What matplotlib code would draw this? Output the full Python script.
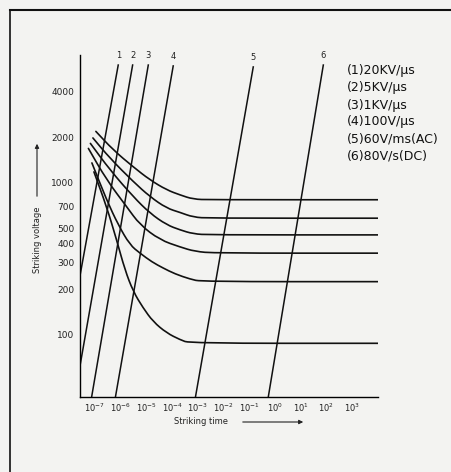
import numpy as np
import matplotlib.pyplot as plt
from matplotlib.lines import Line2D
from matplotlib.path import Path
from matplotlib.patches import PathPatch
from matplotlib.ticker import FixedLocator, FixedFormatter, NullLocator

# ramp lines (constant dV/dt), start / end points
ramp_names = ['1', '2', '3', '4', '5', '6']
ramp_t0 = [2.63e-8, 2.63e-8, 7.45e-8, 6.28e-7, 8.14e-4, 0.553]
ramp_v0 = [245, 62.5, 39, 39, 39, 39]
ramp_t1 = [8.07e-7, 2.93e-6, 1.19e-5, 1.11e-4, 0.144, 76.4]
ramp_v1 = [5970, 5970, 5970, 5890, 5800, 5970]

legend_lines = ['(1)20KV/\u03bcs', '(2)5KV/\u03bcs', '(3)1KV/\u03bcs',
                '(4)100V/\u03bcs', '(5)60V/ms(AC)', '(6)80V/s(DC)']

# striking voltage curves (time in s, voltage in V)
c1_t = [1.09e-7, 5.15e-7, 3.09e-6, 1.38e-5, 6.17e-5, 2.03e-4, 6.68e-4, 2.99e-3, 1.03e4]
c1_v = [2183, 1648, 1275, 1047, 900, 834, 781, 775, 775]
c2_t = [8.36e-8, 3.84e-7, 3.09e-6, 1.38e-5, 6.17e-5, 2.03e-4, 6.68e-4, 2.99e-3, 1.03e4]
c2_v = [1977, 1454, 1020, 812, 682, 640, 595, 586, 586]
c3_t = [6.68e-8, 3.84e-7, 3.09e-6, 1.38e-5, 6.17e-5, 2.03e-4, 6.68e-4, 2.99e-3, 1.03e4]
c3_v = [1820, 1218, 812, 632, 530, 491, 462, 455, 455]
c4_t = [5.58e-8, 2.85e-7, 1.71e-6, 5.64e-6, 3.38e-5, 2.03e-4, 7.78e-4, 4.67e-3, 1.03e4]
c4_v = [1687, 1047, 698, 530, 422, 379, 354, 345, 345]
c5_t = [7.64e-8, 2.85e-7, 8.07e-7, 2.30e-6, 5.64e-6, 1.65e-5, 4.55e-5, 1.30e-4, 4.97e-4, 1.42e-3, 1.03e4]
c5_v = [1354, 773, 530, 391, 345, 302, 275, 252, 233, 224, 224]
c6_t = [9.16e-8, 2.85e-7, 6.98e-7, 1.47e-6, 3.09e-6, 7.38e-6, 1.85e-5, 6.17e-5, 2.03e-4, 4.97e-4, 1.03e4]
c6_v = [1182, 698, 422, 268, 193, 151, 122, 103, 93, 88, 88]

y_ticks = [100, 200, 300, 400, 500, 700, 1000, 2000, 4000]
x_exps = [-7, -6, -5, -4, -3, -2, -1, 0, 1, 2, 3]

W, H = 451, 472
INK = '#111111'


def smooth_path(t, v):
    # quadratic bezier through midpoints (geometric means on log axes)
    t = np.asarray(t, float)
    v = np.asarray(v, float)
    verts = [(t[0], v[0])]
    codes = [Path.MOVETO]
    for i in range(1, len(t) - 1):
        mid = (np.sqrt(t[i] * t[i + 1]), np.sqrt(v[i] * v[i + 1]))
        if i == 1:
            mid0 = (np.sqrt(t[0] * t[1]), np.sqrt(v[0] * v[1]))
            verts.append(mid0)
            codes.append(Path.LINETO)
        verts += [(t[i], v[i]), mid]
        codes += [Path.CURVE3, Path.CURVE3]
    verts.append((t[-1], v[-1]))
    codes.append(Path.LINETO)
    return Path(verts, codes)


fig = plt.figure(figsize=(W / 100, H / 100), dpi=100, facecolor='#f3f3f1')
ax = fig.add_axes([80 / W, 75 / H, 298 / W, 342 / H])
ax.set_facecolor('none')
ax.set_xscale('log')
ax.set_yscale('log')
ax.set_xlim(10 ** -7.58, 10 ** 4.01)
ax.set_ylim(39, 6950)

for s in ['top', 'right']:
    ax.spines[s].set_visible(False)
for s in ['left', 'bottom']:
    ax.spines[s].set_linewidth(1.0)

ax.yaxis.set_major_locator(FixedLocator(y_ticks))
ax.yaxis.set_major_formatter(FixedFormatter([str(v) for v in y_ticks]))
ax.yaxis.set_minor_locator(NullLocator())
x_vals = [10.0 ** e for e in x_exps]
ax.xaxis.set_major_locator(FixedLocator(x_vals))
ax.xaxis.set_major_formatter(FixedFormatter(['$10^{%d}$' % e for e in x_exps]))
ax.xaxis.set_minor_locator(NullLocator())
ax.tick_params(axis='y', length=0, pad=4, labelsize=6.5, labelcolor='#222222')
ax.tick_params(axis='x', length=0, pad=3, labelsize=6, labelcolor='#222222')

for i in range(len(ramp_names)):
    ax.plot([ramp_t0[i], ramp_t1[i]], [ramp_v0[i], ramp_v1[i]], color=INK, lw=1.1)
    ax.annotate(ramp_names[i], xy=(ramp_t1[i], ramp_v1[i]), xytext=(0, 7),
                textcoords='offset points', ha='center', va='center',
                fontsize=6, color='#222222', annotation_clip=False)

for t, v in [(c1_t, c1_v), (c2_t, c2_v), (c3_t, c3_v),
             (c4_t, c4_v), (c5_t, c5_v), (c6_t, c6_v)]:
    ax.add_patch(PathPatch(smooth_path(t, v), facecolor='none', edgecolor=INK,
                           lw=1.2, capstyle='round', joinstyle='round'))

for i, txt in enumerate(legend_lines):
    fig.text(347 / W, 1 - (71 + 17 * i) / H, txt, fontsize=9, va='center',
             ha='left', color=INK)

# axis titles with arrows
fig.text(37 / W, 1 - 240 / H, 'Striking voltage', rotation=90, fontsize=6,
         ha='center', va='center', color='#222222')
ax.annotate('', xy=(37 / W, 1 - 141 / H), xytext=(37 / W, 1 - 199 / H),
            xycoords='figure fraction', textcoords='figure fraction',
            arrowprops=dict(arrowstyle='-|>', lw=0.8, color='#222222',
                            mutation_scale=6))
fig.text(201 / W, 1 - 422 / H, 'Striking time', fontsize=6, ha='center',
         va='center', color='#222222')
ax.annotate('', xy=(306 / W, 1 - 422 / H), xytext=(240 / W, 1 - 422 / H),
            xycoords='figure fraction', textcoords='figure fraction',
            arrowprops=dict(arrowstyle='-|>', lw=0.8, color='#222222',
                            mutation_scale=6))

# frame around the figure
fig.add_artist(Line2D([10 / W, 1], [1 - 10 / H, 1 - 10 / H],
                      transform=fig.transFigure, color=INK, lw=1.5))
fig.add_artist(Line2D([10 / W, 10 / W], [0, 1 - 10 / H],
                      transform=fig.transFigure, color=INK, lw=1.2))

fig.savefig('out.png', dpi=100, facecolor=fig.get_facecolor())
